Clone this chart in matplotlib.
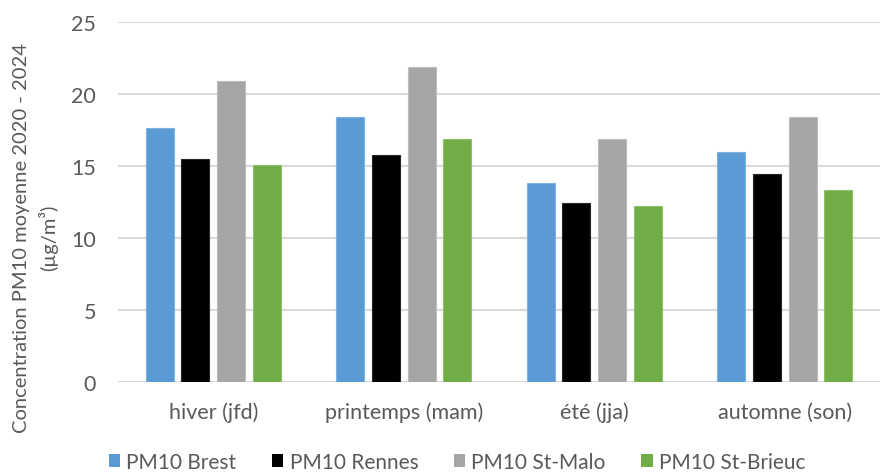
import matplotlib

matplotlib.use("Agg")
import matplotlib.pyplot as plt
import numpy as np
from matplotlib.patches import Patch

saisons = ["hiver (jfd)", "printemps (mam)", "été (jja)", "automne (son)"]
stations = ["PM10 Brest", "PM10 Rennes", "PM10 St-Malo", "PM10 St-Brieuc"]
brest = [17.6, 18.4, 13.8, 16.0]
rennes = [15.5, 15.75, 12.4, 14.45]
st_malo = [20.9, 21.85, 16.85, 18.4]
st_brieuc = [15.05, 16.9, 12.25, 13.3]

couleurs = ["#5B9BD5", "#000000", "#A5A5A5", "#70AD47"]
bords = ["#7FB2E0", "#262626", "#BDBDBD", "#8CC06A"]
texte = "#595959"

plt.rcParams["font.family"] = ["Lato", "DejaVu Sans"]

fig = plt.figure(figsize=(8.84, 4.77), dpi=100)
ax = fig.add_axes([0.1335, 0.197, 0.862, 0.755])

x = np.arange(len(saisons))
largeur = 0.147
pas = 0.187
for i, (vals, coul, bord) in enumerate(zip([brest, rennes, st_malo, st_brieuc], couleurs, bords)):
    ax.bar(x + (i - 1.5) * pas, vals, width=largeur, color=coul,
           edgecolor=bord, linewidth=0.8, zorder=3)

ax.set_xlim(-0.5, len(saisons) - 0.5)
ax.set_ylim(0, 25)
ax.set_yticks(range(0, 26, 5))
ax.set_xticks(x)
ax.set_xticklabels(saisons)
ax.yaxis.grid(True, color="#D9D9D9", linewidth=1.5, zorder=0)
ax.set_axisbelow(True)
for s in ax.spines.values():
    s.set_visible(False)
ax.tick_params(axis="both", length=0, labelsize=15.5, colors=texte)
ax.tick_params(axis="y", pad=16)
ax.tick_params(axis="x", pad=14)

fig.text(0.04, 0.501, "Concentration PM10 moyenne 2020 - 2024\n(µg/m³)",
         rotation=90, ha="center", va="center", fontsize=14.5, color=texte,
         linespacing=1.45)

poignees = [Patch(facecolor=c, edgecolor="none") for c in couleurs]
fig.legend(poignees, stations, loc="center", bbox_to_anchor=(0.517, 0.03),
           ncol=4, frameon=False, fontsize=15, labelcolor=texte,
           handlelength=0.55, handleheight=0.55, handletextpad=0.3,
           columnspacing=1.7, borderpad=0)

fig.savefig("out.png", dpi=100)
